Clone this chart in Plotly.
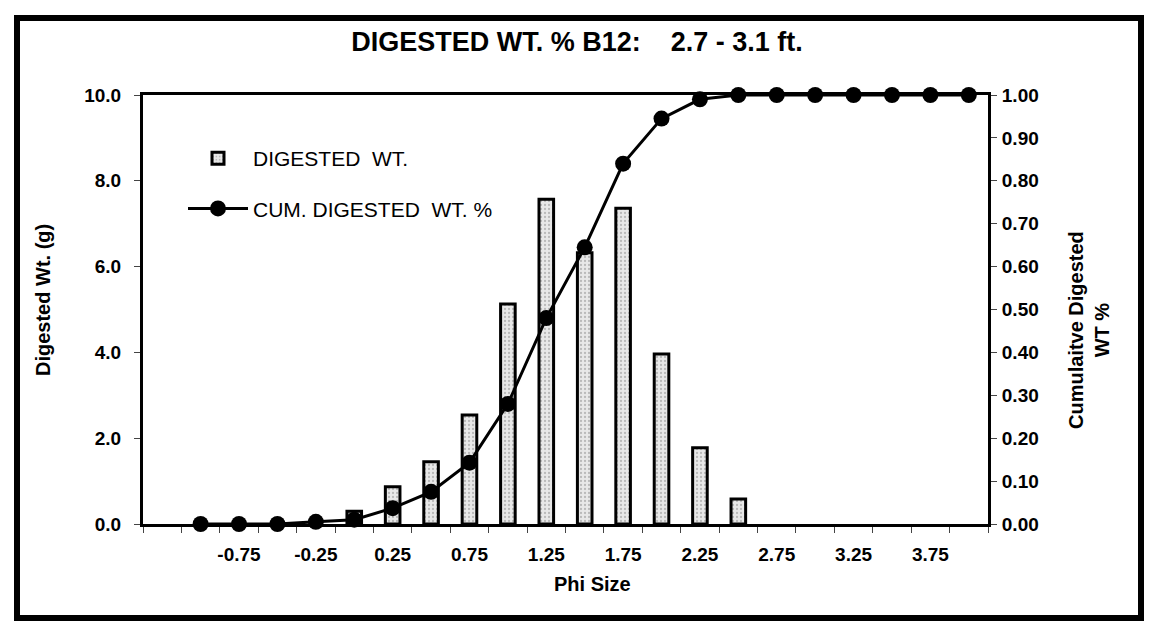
import plotly.graph_objects as go

# ---- data ----
phi_size = [-1.25, -1.00, -0.75, -0.50, -0.25, 0.00, 0.25, 0.50, 0.75, 1.00, 1.25,
            1.50, 1.75, 2.00, 2.25, 2.50, 2.75, 3.00, 3.25, 3.50, 3.75, 4.00]
digested_wt = [None, None, None, None, None, 0.30, 0.87, 1.45, 2.54, 5.13, 7.57,
               6.32, 7.36, 3.96, 1.78, 0.58, None, None, None, None, None, None]
cum_digested_pct = [None, 0.0, 0.0, 0.0, 0.005, 0.01, 0.037, 0.075, 0.143, 0.28, 0.48,
                    0.645, 0.84, 0.945, 0.99, 1.0, 1.0, 1.0, 1.0, 1.0, 1.0, 1.0]
shown_labels = ["-0.75", "-0.25", "0.25", "0.75", "1.25", "1.75", "2.25", "2.75", "3.25", "3.75"]
left_ticks = [0, 2, 4, 6, 8, 10]
right_ticks = [0.0, 0.1, 0.2, 0.3, 0.4, 0.5, 0.6, 0.7, 0.8, 0.9, 1.0]

cats = [f"{v:.2f}" for v in phi_size]
ticktext = [c if c in shown_labels else "" for c in cats]

FONT = "Liberation Sans, Arial, sans-serif"
OFF = 8                      # page body margin
W, H = 1155 - 2 * OFF, 629 - 2 * OFF
PL, PR, PT, PB = 143, 988, 95, 524   # plot area in page pixels
L, R, T, B = PL - OFF, W - (PR - OFF), PT - OFF, H - (PB - OFF)
pw, ph = PR - PL, PB - PT

def px_x(x):
    return (x - PL) / pw

def px_y(y):
    return (PB - y) / ph

fig = go.Figure()
fig.add_trace(go.Bar(
    x=cats, y=digested_wt, name="DIGESTED  WT.", width=0.38,
    marker=dict(color="#e4e4e4", line=dict(color="black", width=3),
                pattern=dict(shape=".", fgcolor="#8a8a8a", bgcolor="#e8e8e8", size=4, solidity=0.25)),
    legendgroup="a", yaxis="y"))
fig.add_trace(go.Scatter(
    x=cats, y=cum_digested_pct, name="CUM. DIGESTED  WT. %", mode="lines+markers",
    line=dict(color="black", width=3), marker=dict(color="black", size=16, symbol="circle"),
    cliponaxis=False, legendgroup="b", yaxis="y2"))

fig.update_layout(
    width=W, height=H, margin=dict(l=L, r=R, t=T, b=B, autoexpand=False),
    paper_bgcolor="white", plot_bgcolor="white",
    font=dict(family=FONT, color="black"),
    title=dict(text="DIGESTED WT. % B12:\u00a0\u00a0\u00a0 2.7 - 3.1 ft.",
               font=dict(size=27, family=FONT, weight="bold"),
               x=px_x(577), xref="paper", xanchor="center",
               y=1 - (42 - OFF) / H, yref="container", yanchor="middle"),
    xaxis=dict(type="category", categoryorder="array", categoryarray=cats,
               range=[-0.5, len(cats) - 0.5],
               tickmode="array", tickvals=cats, ticktext=ticktext,
               tickson="boundaries", ticks="outside", ticklen=6, tickwidth=1,
               showline=True, linecolor="black", linewidth=3, mirror=True,
               showgrid=False, tickfont=dict(size=19, weight="bold"), tickangle=0,
               ticklabelstandoff=11),
    yaxis=dict(range=[0, 10], tickvals=left_ticks, tickformat=".1f", ticks="outside",
               ticklen=6, showline=True, linecolor="black", linewidth=3,
               showgrid=False, zeroline=False, tickfont=dict(size=19, weight="bold"),
               ticklabelstandoff=9),
    yaxis2=dict(range=[0, 1], tickvals=right_ticks, tickformat=".2f", ticks="outside",
                ticklen=6, overlaying="y", side="right", showline=True, linecolor="black",
                linewidth=3, showgrid=False, zeroline=False,
                tickfont=dict(size=19, weight="bold"), ticklabelstandoff=1),
    legend=dict(x=px_x(183), y=px_y(138), xanchor="left", yanchor="top",
                bgcolor="rgba(0,0,0,0)", font=dict(size=21, family=FONT),
                traceorder="grouped", tracegroupgap=20, itemwidth=60),
    showlegend=True,
)

fig.add_annotation(text="<b>Digested Wt. (g)</b>", x=px_x(43), y=px_y(300), xref="paper", yref="paper",
                   xanchor="center", yanchor="middle",
                   textangle=-90, showarrow=False, font=dict(size=20, family=FONT))
fig.add_annotation(text="<b>Cumulaitve Digested<br>WT %</b>", x=px_x(1089), y=px_y(330), xref="paper",
                   yref="paper", xanchor="center", yanchor="middle",
                   textangle=-90, showarrow=False, font=dict(size=20, family=FONT))
fig.add_annotation(text="<b>Phi Size</b>", x=px_x(592), y=px_y(584), xref="paper", yref="paper",
                   xanchor="center", yanchor="middle",
                   showarrow=False, font=dict(size=20, family=FONT))

# outer chart frame
fig.add_shape(type="rect", xref="paper", yref="paper",
              x0=px_x(17), x1=px_x(1141), y0=px_y(618), y1=px_y(18),
              line=dict(color="black", width=6), layer="below")

fig.write_html("out.html")
